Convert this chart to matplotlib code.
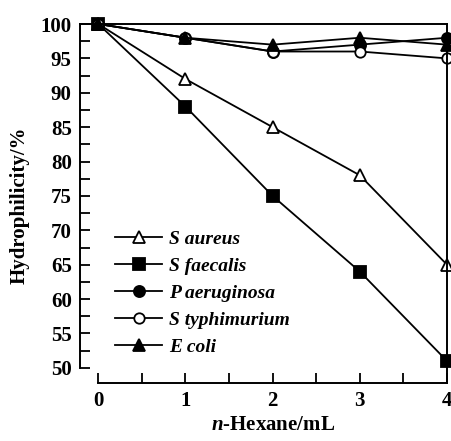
import matplotlib.pyplot as plt
from matplotlib.ticker import MultipleLocator

plt.rcParams['font.family'] = ['Liberation Serif', 'DejaVu Serif']
plt.rcParams['font.weight'] = 'bold'
plt.rcParams['mathtext.fontset'] = 'custom'
plt.rcParams['mathtext.it'] = 'Liberation Serif:italic:bold'
plt.rcParams['mathtext.rm'] = 'Liberation Serif:bold'

hexane = [0, 1, 2, 3, 4]
s_aureus = [100, 92, 85, 78, 65]
s_faecalis = [100, 88, 75, 64, 51]
p_aeruginosa = [100, 98, 96, 97, 98]
s_typhimurium = [100, 98, 96, 96, 95]
e_coli = [100, 98, 97, 98, 97]

series = [
    ("S aureus", s_aureus, '^', 'white', 9),
    ("S faecalis", s_faecalis, 's', 'black', 8),
    ("P aeruginosa", p_aeruginosa, 'o', 'black', 8),
    ("S typhimurium", s_typhimurium, 'o', 'white', 7.5),
    ("E coli", e_coli, '^', 'black', 9),
]

fig = plt.figure(figsize=(4.52, 4.41), dpi=100)
ax = fig.add_axes([80/452, 1 - 383/441, (447-80)/452, (383-24)/441])

for name, vals, mk, fc, ms in series:
    ax.plot(hexane, vals, color='black', lw=1.3, marker=mk, ms=ms,
            mfc=fc, mec='black', mew=1.3, label=name, clip_on=False)

ax.set_xlim(-0.21, 4)
ax.set_ylim(47.8, 100)
ax.spines['left'].set_bounds(50, 100)
ax.spines['bottom'].set_bounds(0, 4)
for s in ax.spines.values():
    s.set_linewidth(1.4)

ax.xaxis.set_major_locator(MultipleLocator(1))
ax.xaxis.set_minor_locator(MultipleLocator(0.5))
ax.yaxis.set_major_locator(MultipleLocator(5))
ax.yaxis.set_minor_locator(MultipleLocator(2.5))
ax.tick_params(which='both', direction='in', width=1.3, labelsize=15, length=7)
ax.tick_params(axis='y', which='both', right=False, pad=6)
ax.tick_params(axis='x', which='both', top=False, pad=6)
ax.set_xticks([0, 1, 2, 3, 4])

fig.text(20/452, 1 - 205/441, "Hydrophilicity/%", fontsize=15, fontweight='bold',
         rotation=90, ha='center', va='center')
fig.text(273/452, 1 - 425/441, r"$\mathit{n}$-Hexane/mL", fontsize=15,
         fontweight='bold', ha='center', va='center')

leg = ax.legend(loc='upper left', bbox_to_anchor=(98/452, 1 - 213/441),
                bbox_transform=fig.transFigure, frameon=False,
                prop={'style': 'italic', 'weight': 'bold', 'size': 14},
                handlelength=2.4, labelspacing=0.48, handletextpad=0.35)

fig.savefig('out.png', dpi=100)
